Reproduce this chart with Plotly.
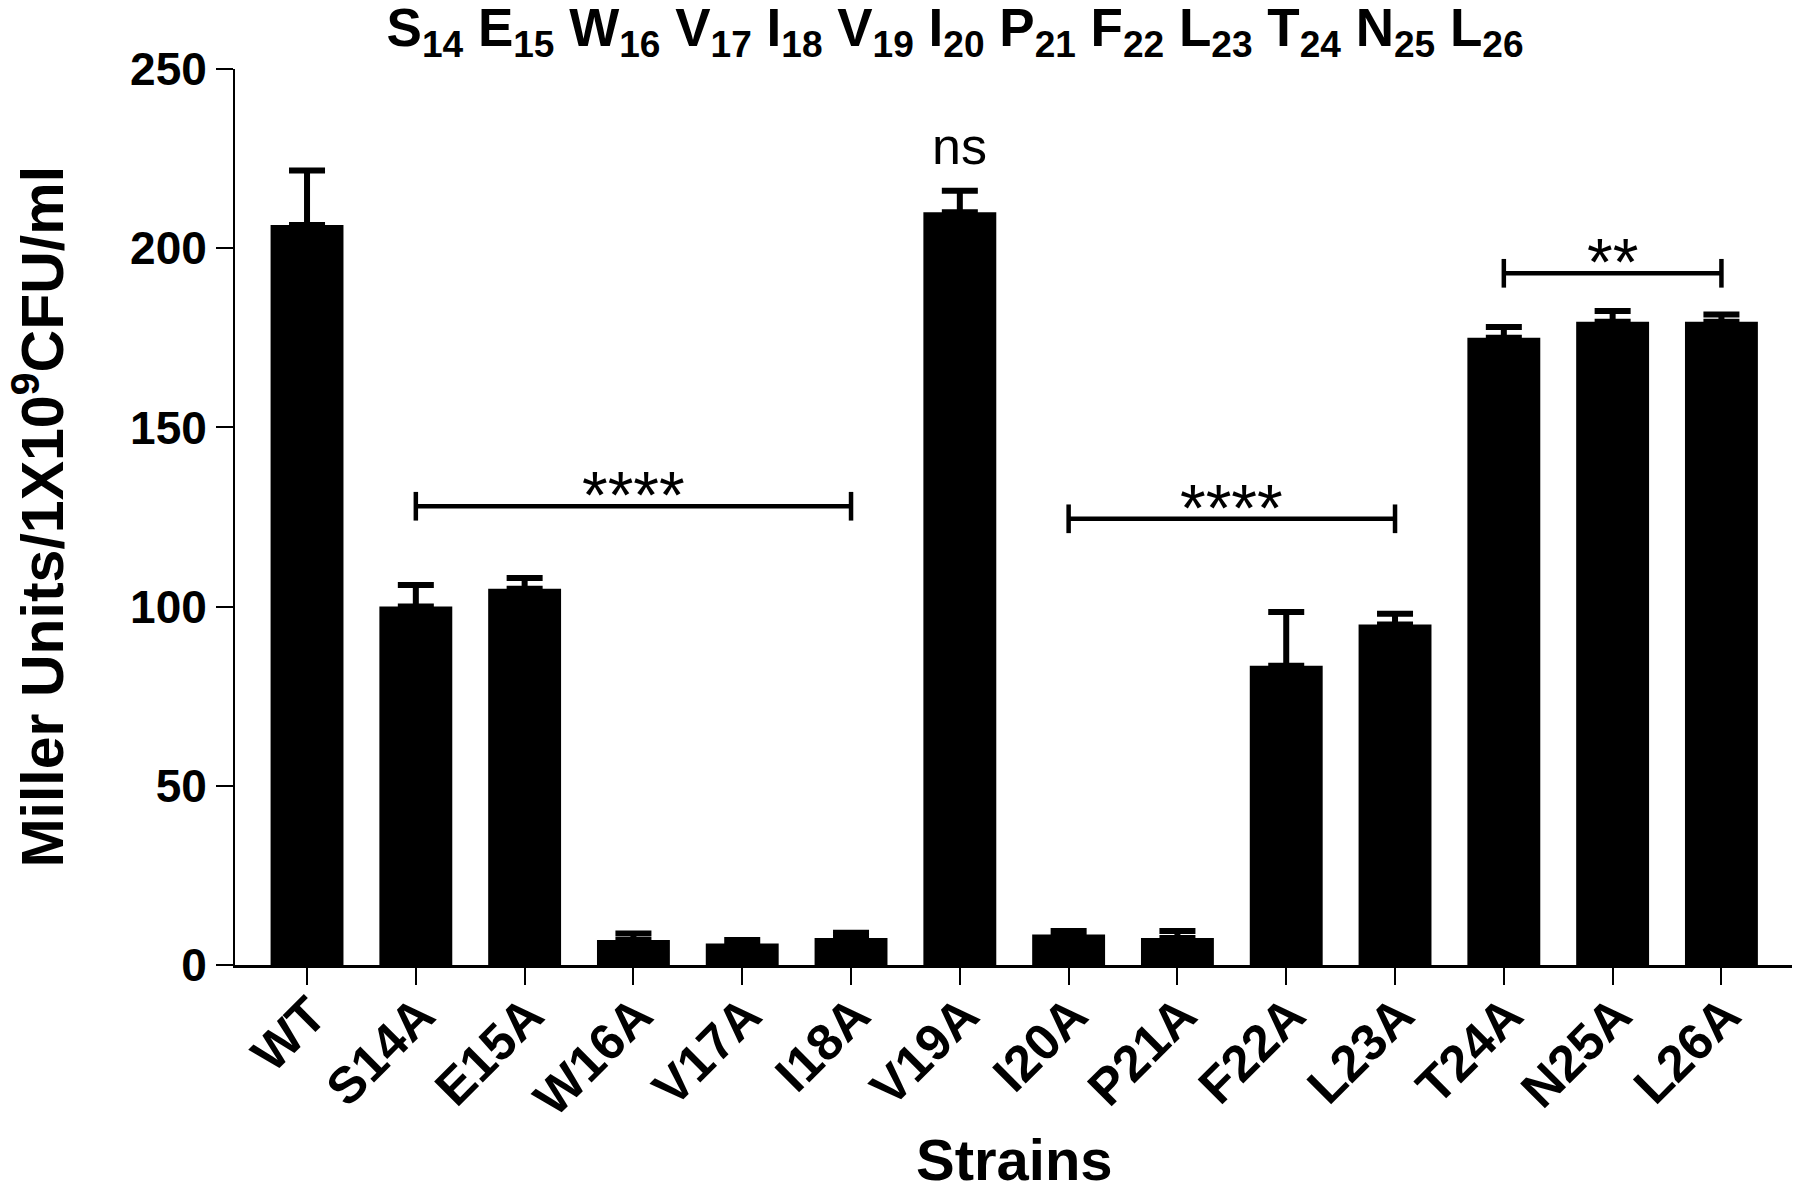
import plotly.graph_objects as go

# data
strains = ['WT', 'S14A', 'E15A', 'W16A', 'V17A', 'I18A', 'V19A',
           'I20A', 'P21A', 'F22A', 'L23A', 'T24A', 'N25A', 'L26A']
means = [206.5, 100, 105, 7, 6, 7.5, 210, 8.5, 7.5, 83.5, 95, 175, 179.5, 179.5]
sem = [15.2, 6, 3, 1.8, 1, 1.5, 6, 1, 2, 15, 3, 3, 3, 2]

# significance brackets: (first strain, last strain, height, label)
brackets = [('S14A', 'I18A', 128, '****'),
            ('I20A', 'L23A', 124.5, '****'),
            ('T24A', 'L26A', 193, '**')]
ns_label = ('V19A', 'ns')

title_parts = [('S', 14), ('E', 15), ('W', 16), ('V', 17), ('I', 18), ('V', 19), ('I', 20),
               ('P', 21), ('F', 22), ('L', 23), ('T', 24), ('N', 25), ('L', 26)]
yticks = [0, 50, 100, 150, 200, 250]

FONT = 'Liberation Sans'

# the page body has an 8px margin, so the figure is a bit smaller than the window
W, H = 1792, 1184

x = list(range(len(strains)))

fig = go.Figure()
fig.add_trace(go.Bar(
    x=x, y=means, width=0.67,
    marker=dict(color='black', line=dict(color='black', width=0)),
    error_y=dict(type='data', array=sem, arrayminus=[0] * len(sem), symmetric=False,
                 color='black', thickness=6, width=18),
))

for a, b, h, lab in brackets:
    i0, i1 = strains.index(a), strains.index(b)
    fig.add_shape(type='line', x0=i0, x1=i1, y0=h, y1=h, line=dict(color='black', width=4.5))
    for i in (i0, i1):
        fig.add_shape(type='line', x0=i, x1=i, y0=h - 4, y1=h + 4,
                      line=dict(color='black', width=4.5))
    fig.add_annotation(x=(i0 + i1) / 2, y=h, text=lab, showarrow=False, yanchor='bottom',
                       yshift=-28, font=dict(family=FONT, size=66, color='black'))

k = strains.index(ns_label[0])
fig.add_annotation(x=k, y=means[k] + sem[k], text=ns_label[1], showarrow=False,
                   yanchor='bottom', yshift=14,
                   font=dict(family=FONT, size=52, color='black'))

# axis titles
fig.add_annotation(xref='paper', yref='paper', x=-0.126, y=0.5, textangle=-90,
                   text='<b>Miller Units/1X10<sup>9</sup>CFU/ml</b>', showarrow=False,
                   xanchor='center', yanchor='middle',
                   font=dict(family=FONT, size=59, color='black'))
fig.add_annotation(xref='paper', yref='paper', x=0.5, y=-0.217, text='<b>Strains</b>',
                   showarrow=False, xanchor='center', yanchor='middle',
                   font=dict(family=FONT, size=58, color='black'))

title = ' '.join(f'{c}<sub>{n}</sub>' for c, n in title_parts)

fig.update_layout(
    width=W, height=H,
    paper_bgcolor='white', plot_bgcolor='white',
    margin=dict(l=227, r=6, t=61, b=227, autoexpand=False),
    showlegend=False,
    title=dict(text=f'<b>{title}</b>', x=0.5285, xanchor='center', y=0.984, yanchor='middle',
               font=dict(family=FONT, size=53, color='black')),
    xaxis=dict(
        range=[-0.662, 13.667], tickmode='array', tickvals=x,
        ticktext=[f'<b>{s}</b>' for s in strains],
        tickangle=-45, ticks='outside', ticklen=17, tickwidth=1.5, tickcolor='black',
        ticklabelstandoff=-20, ticklabelshift=4,
        showline=True, linecolor='black', linewidth=2.5, showgrid=False, zeroline=False,
        automargin=False,
        tickfont=dict(family=FONT, size=51, color='black'),
    ),
    yaxis=dict(
        range=[0, 250], tickvals=yticks, ticktext=[f'<b>{v}</b>' for v in yticks],
        ticks='outside', ticklen=17, tickwidth=1.5, tickcolor='black',
        showline=True, linecolor='black', linewidth=2, showgrid=False, zeroline=False,
        automargin=False,
        tickfont=dict(family=FONT, size=46, color='black'),
    ),
)

fig.write_html('out.html')
